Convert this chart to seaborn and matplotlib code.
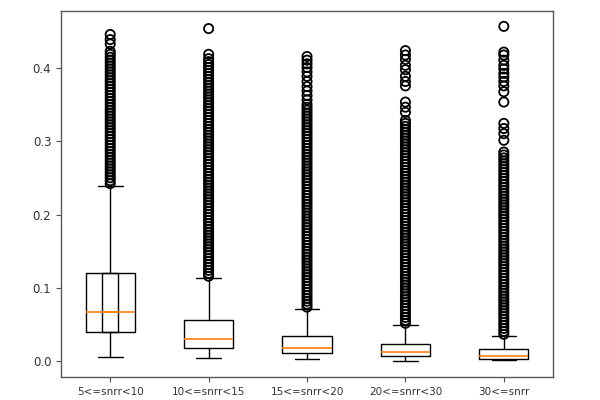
import matplotlib
matplotlib.use("Agg")
import matplotlib.pyplot as plt
import seaborn as sns
import pandas as pd

categories = ["5<=snrr<10", "10<=snrr<15", "15<=snrr<20", "20<=snrr<30", "30<=snrr"]
q1 = [0.0405, 0.0188, 0.0116, 0.0071, 0.0038]
medians = [0.0678, 0.0310, 0.0188, 0.0133, 0.0079]
q3 = [0.1210, 0.0564, 0.0347, 0.0238, 0.0166]
whisker_low = [0.0057, 0.0044, 0.0030, 0.0010, 0.0016]
whisker_high = [0.2390, 0.1130, 0.0710, 0.0497, 0.0347]

fliers_1 = [0.242, 0.246, 0.250, 0.254, 0.258, 0.262, 0.266, 0.270, 0.274, 0.278,
            0.282, 0.286, 0.290, 0.294, 0.298, 0.302, 0.306, 0.310, 0.314, 0.318,
            0.322, 0.326, 0.330, 0.334, 0.338, 0.342, 0.346, 0.350, 0.354, 0.358,
            0.362, 0.366, 0.370, 0.374, 0.378, 0.382, 0.386, 0.390, 0.394, 0.398,
            0.402, 0.406, 0.410, 0.414, 0.418, 0.422, 0.432, 0.438, 0.445]
fliers_2 = [0.116, 0.120, 0.124, 0.128, 0.132, 0.136, 0.140, 0.144, 0.148, 0.152,
            0.156, 0.160, 0.164, 0.168, 0.172, 0.176, 0.180, 0.184, 0.188, 0.192,
            0.196, 0.200, 0.204, 0.208, 0.212, 0.216, 0.220, 0.224, 0.228, 0.232,
            0.236, 0.240, 0.244, 0.248, 0.252, 0.256, 0.260, 0.264, 0.268, 0.272,
            0.276, 0.280, 0.284, 0.288, 0.292, 0.296, 0.300, 0.304, 0.308, 0.312,
            0.316, 0.320, 0.324, 0.328, 0.332, 0.336, 0.340, 0.344, 0.348, 0.352,
            0.356, 0.360, 0.364, 0.368, 0.372, 0.376, 0.380, 0.384, 0.388, 0.392,
            0.396, 0.400, 0.404, 0.408, 0.412, 0.418, 0.453]
fliers_3 = [0.074, 0.078, 0.082, 0.086, 0.090, 0.094, 0.098, 0.102, 0.106, 0.110,
            0.114, 0.118, 0.122, 0.126, 0.130, 0.134, 0.138, 0.142, 0.146, 0.150,
            0.154, 0.158, 0.162, 0.166, 0.170, 0.174, 0.178, 0.182, 0.186, 0.190,
            0.194, 0.198, 0.202, 0.206, 0.210, 0.214, 0.218, 0.222, 0.226, 0.230,
            0.234, 0.238, 0.242, 0.246, 0.250, 0.254, 0.258, 0.262, 0.266, 0.270,
            0.274, 0.278, 0.282, 0.286, 0.290, 0.294, 0.298, 0.302, 0.306, 0.310,
            0.314, 0.318, 0.322, 0.326, 0.330, 0.334, 0.338, 0.342, 0.346, 0.350,
            0.356, 0.362, 0.368, 0.374, 0.381, 0.388, 0.394, 0.400, 0.405, 0.410,
            0.415]
fliers_4 = [0.052, 0.056, 0.060, 0.064, 0.068, 0.072, 0.076, 0.080, 0.084, 0.088,
            0.092, 0.096, 0.100, 0.104, 0.108, 0.112, 0.116, 0.120, 0.124, 0.128,
            0.132, 0.136, 0.140, 0.144, 0.148, 0.152, 0.156, 0.160, 0.164, 0.168,
            0.172, 0.176, 0.180, 0.184, 0.188, 0.192, 0.196, 0.200, 0.204, 0.208,
            0.212, 0.216, 0.220, 0.224, 0.228, 0.232, 0.236, 0.240, 0.244, 0.248,
            0.252, 0.256, 0.260, 0.264, 0.268, 0.272, 0.276, 0.280, 0.284, 0.288,
            0.292, 0.296, 0.300, 0.304, 0.308, 0.312, 0.316, 0.320, 0.324, 0.328,
            0.339, 0.346, 0.353, 0.375, 0.381, 0.388, 0.397, 0.403, 0.411, 0.417,
            0.423]
fliers_5 = [0.037, 0.041, 0.045, 0.049, 0.053, 0.057, 0.061, 0.065, 0.069, 0.073,
            0.077, 0.081, 0.085, 0.089, 0.093, 0.097, 0.101, 0.105, 0.109, 0.113,
            0.117, 0.121, 0.125, 0.129, 0.133, 0.137, 0.141, 0.145, 0.149, 0.153,
            0.157, 0.161, 0.165, 0.169, 0.173, 0.177, 0.181, 0.185, 0.189, 0.193,
            0.197, 0.201, 0.205, 0.209, 0.213, 0.217, 0.221, 0.225, 0.229, 0.233,
            0.237, 0.241, 0.245, 0.249, 0.253, 0.257, 0.261, 0.265, 0.269, 0.273,
            0.277, 0.281, 0.285, 0.301, 0.310, 0.317, 0.324, 0.353, 0.367, 0.375,
            0.381, 0.387, 0.392, 0.398, 0.403, 0.410, 0.417, 0.421, 0.456]
fliers = [fliers_1, fliers_2, fliers_3, fliers_4, fliers_5]

sns.set_style("ticks")
plt.rcParams.update({
    "font.family": ["DejaVu Sans"],
    "font.size": 8,
    "axes.edgecolor": "0.35",
    "axes.linewidth": 1.0,
    "xtick.color": "0.3",
    "ytick.color": "0.3",
    "xtick.labelcolor": "0.2",
    "ytick.labelcolor": "0.2",
    "xtick.major.size": 3.5,
    "ytick.major.size": 3.5,
    "xtick.labelsize": 7.5,
    "ytick.labelsize": 8.5,
})

positions = list(range(len(categories)))
stats = []
for i, cat in enumerate(categories):
    stats.append(dict(label=cat, q1=q1[i], med=medians[i], q3=q3[i],
                      whislo=whisker_low[i], whishi=whisker_high[i], fliers=[]))

fig = plt.figure(figsize=(6, 4), dpi=100)
ax = fig.add_axes([0.1017, 0.0575, 0.82, 0.915])

line = dict(color="black", linewidth=1.0)
ax.bxp(stats, positions=positions, widths=0.5, showfliers=False,
       boxprops=line, whiskerprops=line, capprops=line,
       medianprops=dict(color="#ff7f0e", linewidth=1.2), manage_ticks=False)
# narrow inner box drawn on the first group
ax.bxp([stats[0]], positions=[0], widths=0.163, showfliers=False, showcaps=False,
       boxprops=line, whiskerprops=dict(linewidth=0),
       medianprops=dict(color="#ff7f0e", linewidth=1.2), manage_ticks=False)

flier_df = pd.DataFrame({
    "pos": [p for p, fl in zip(positions, fliers) for _ in fl],
    "value": [v for fl in fliers for v in fl],
})
sns.scatterplot(data=flier_df, x="pos", y="value", ax=ax, marker="o", s=44,
                color="black", facecolors="none", edgecolors="black",
                linewidths=1.3, legend=False, zorder=3)

ax.set_xlim(-0.5, 4.5)
ax.set_ylim(-0.0211, 0.4769)
ax.set_xticks(positions)
ax.set_xticklabels(categories)
ax.set_yticks([0.0, 0.1, 0.2, 0.3, 0.4])
ax.set_yticklabels(["0.0", "0.1", "0.2", "0.3", "0.4"])
ax.set_xlabel("")
ax.set_ylabel("")

fig.savefig("out.png", dpi=100)
